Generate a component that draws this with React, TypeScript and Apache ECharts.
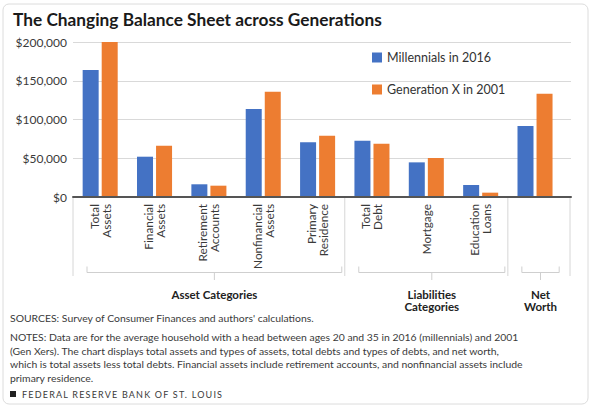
import React, { useEffect, useRef } from "react";
import * as echarts from "echarts";

const categories = [
  "Total\nAssets",
  "Financial\nAssets",
  "Retirement\nAccounts",
  "Nonfinancial\nAssets",
  "Primary\nResidence",
  "Total\nDebt",
  "Mortgage",
  "Education\nLoans",
  "",
];
const millennials2016 = [164000, 52000, 16400, 113500, 70600, 72600, 44700, 15500, 91600];
const genX2001 = [200000, 66200, 14600, 135900, 79100, 68800, 50300, 5600, 133300];
const seriesNames = ["Millennials in 2016", "Generation X in 2001"];
const yTicks = [0, 50000, 100000, 150000, 200000];
const groupLabels = ["Asset Categories", "Liabilities\nCategories", "Net\nWorth"];
const groupSizes = [5, 3, 1];
const titleText = "The Changing Balance Sheet across Generations";
const sourcesText = "SOURCES: Survey of Consumer Finances and authors' calculations.";
const notesLines = [
  "NOTES: Data are for the average household with a head between ages 20 and 35 in 2016 (millennials) and 2001",
  "(Gen Xers). The chart displays total assets and types of assets, total debts and types of debts, and net worth,",
  "which is total assets less total debts. Financial assets include retirement accounts, and nonfinancial assets include",
  "primary residence.",
];
const footerText = "FEDERAL RESERVE BANK OF ST. LOUIS";

const W = 591;
const H = 408;
const PLOT_TOP = 42;
const PLOT_BOTTOM = 197;
const GRID_LEFT = 73;
const GRID_RIGHT = 571;
const BAR_RIGHT = 562.2;
const FONT = "Lato, 'Open Sans', sans-serif";

export default function App() {
  const ref = useRef<HTMLDivElement>(null);
  useEffect(() => {
    if (!ref.current) return;
    const chart = echarts.init(ref.current, undefined, { renderer: "svg" });
    const catW = (BAR_RIGHT - GRID_LEFT) / categories.length;

    const graphics: any[] = [];
    graphics.push({
      type: "rect",
      shape: { x: 3, y: 4, width: 585, height: 400, r: 6 },
      style: { fill: "none", stroke: "#dcdcdc", lineWidth: 1 },
      silent: true,
    });
    let idx = 0;
    const sepXs = [GRID_LEFT];
    groupSizes.forEach((n) => {
      idx += n;
      sepXs.push(idx === categories.length ? GRID_RIGHT - 1 : GRID_LEFT + idx * catW);
    });
    sepXs.forEach((x) => {
      graphics.push({
        type: "line",
        shape: { x1: x, y1: PLOT_BOTTOM + 1, x2: x, y2: 276 },
        style: { stroke: "#d6d6d6", lineWidth: 1 },
        silent: true,
      });
    });
    let start = 0;
    groupSizes.forEach((n, gi) => {
      const x1 = GRID_LEFT + start * catW + 14;
      const x2 = GRID_LEFT + (start + n) * catW - 3;
      const cx = (x1 + x2) / 2;
      const by = 272.5;
      graphics.push({
        type: "polyline",
        shape: { points: [[x1, 266.5], [x1, by], [x2, by], [x2, 266.5]] },
        style: { stroke: "#cfcfcf", lineWidth: 1, fill: "none" },
        silent: true,
      });
      graphics.push({
        type: "line",
        shape: { x1: cx, y1: by, x2: cx, y2: 280 },
        style: { stroke: "#cfcfcf", lineWidth: 1 },
        silent: true,
      });
      graphics.push({
        type: "text",
        x: cx,
        y: 288,
        style: {
          text: groupLabels[gi],
          fill: "#222",
          font: `bold 11.5px ${FONT}`,
          align: "center",
          verticalAlign: "top",
          lineHeight: 12,
        },
        silent: true,
      });
      start += n;
    });
    graphics.push({
      type: "text",
      x: 10,
      y: 318,
      style: { text: sourcesText, fill: "#3a3a3a", font: `10.4px ${FONT}`, verticalAlign: "middle" },
      silent: true,
    });
    notesLines.forEach((t, i) => {
      graphics.push({
        type: "text",
        x: 10,
        y: 337 + i * 13.6,
        style: { text: t, fill: "#3a3a3a", font: `10.4px ${FONT}`, verticalAlign: "middle" },
        silent: true,
      });
    });
    graphics.push({
      type: "rect",
      shape: { x: 10, y: 391, width: 6, height: 6 },
      style: { fill: "#222" },
      silent: true,
    });

    chart.setOption({
      animation: false,
      textStyle: { fontFamily: FONT },
      title: {
        text: titleText,
        left: 8,
        top: 6,
        textStyle: { fontSize: 17.3, fontWeight: "bold", color: "#1a1a1a", fontFamily: FONT },
      },
      legend: {
        orient: "vertical",
        left: 372,
        top: 51,
        padding: 0,
        itemWidth: 10,
        itemHeight: 10,
        itemGap: 19,
        icon: "rect",
        data: seriesNames,
        textStyle: { fontSize: 12.5, color: "#333" },
      },
      grid: [
        {
          left: GRID_LEFT,
          width: GRID_RIGHT - GRID_LEFT,
          top: PLOT_TOP,
          height: PLOT_BOTTOM - PLOT_TOP,
        },
        {
          left: GRID_LEFT,
          width: BAR_RIGHT - GRID_LEFT,
          top: PLOT_TOP,
          height: PLOT_BOTTOM - PLOT_TOP,
        },
      ],
      xAxis: [
        {
          type: "category",
          gridIndex: 0,
          data: [""],
          axisLine: { show: true, lineStyle: { color: "#555", width: 2 } },
          axisTick: { show: false },
          axisLabel: { show: false },
          z: 5,
        },
        {
          type: "category",
          gridIndex: 1,
          data: categories,
          axisLine: { show: false },
          axisTick: { show: false },
          axisLabel: {
            rotate: 90,
            interval: 0,
            margin: 7,
            fontSize: 11.8,
            lineHeight: 12,
            color: "#3a3a3a",
          },
        },
      ],
      yAxis: [
        {
          type: "value",
          gridIndex: 0,
          min: 0,
          max: 200000,
          interval: 50000,
          axisLine: { show: false },
          axisTick: { show: false },
          splitLine: { lineStyle: { color: "#d9d9d9", width: 1 } },
          axisLabel: {
            fontSize: 12,
            color: "#3a3a3a",
            margin: 6,
            formatter: (v: number) =>
              yTicks.includes(v) ? "$" + v.toLocaleString("en-US") : "",
          },
        },
        {
          type: "value",
          gridIndex: 1,
          min: 0,
          max: 200000,
          interval: 50000,
          show: false,
          splitLine: { show: false },
        },
      ],
      series: [
        {
          name: seriesNames[0],
          type: "bar",
          xAxisIndex: 1,
          yAxisIndex: 1,
          data: millennials2016,
          barWidth: 16,
          barGap: "19%",
          itemStyle: { color: "#4472C4" },
        },
        {
          name: seriesNames[1],
          type: "bar",
          xAxisIndex: 1,
          yAxisIndex: 1,
          data: genX2001,
          barWidth: 16,
          barGap: "19%",
          itemStyle: { color: "#ED7D31" },
        },
      ],
      graphic: graphics,
    });
    return () => chart.dispose();
  }, []);
  return (
    <div style={{ position: "absolute", left: 0, top: 0, width: W, height: H }}>
      <div ref={ref} style={{ position: "absolute", left: 0, top: 0, width: W, height: H, background: "#fff" }} />
      <div
        style={{
          position: "absolute",
          left: 22,
          top: 388,
          fontFamily: FONT,
          fontSize: 9,
          lineHeight: "13px",
          letterSpacing: "1.2px",
          color: "#3a3a3a",
          whiteSpace: "nowrap",
        }}
      >
        {footerText}
      </div>
    </div>
  );
}
